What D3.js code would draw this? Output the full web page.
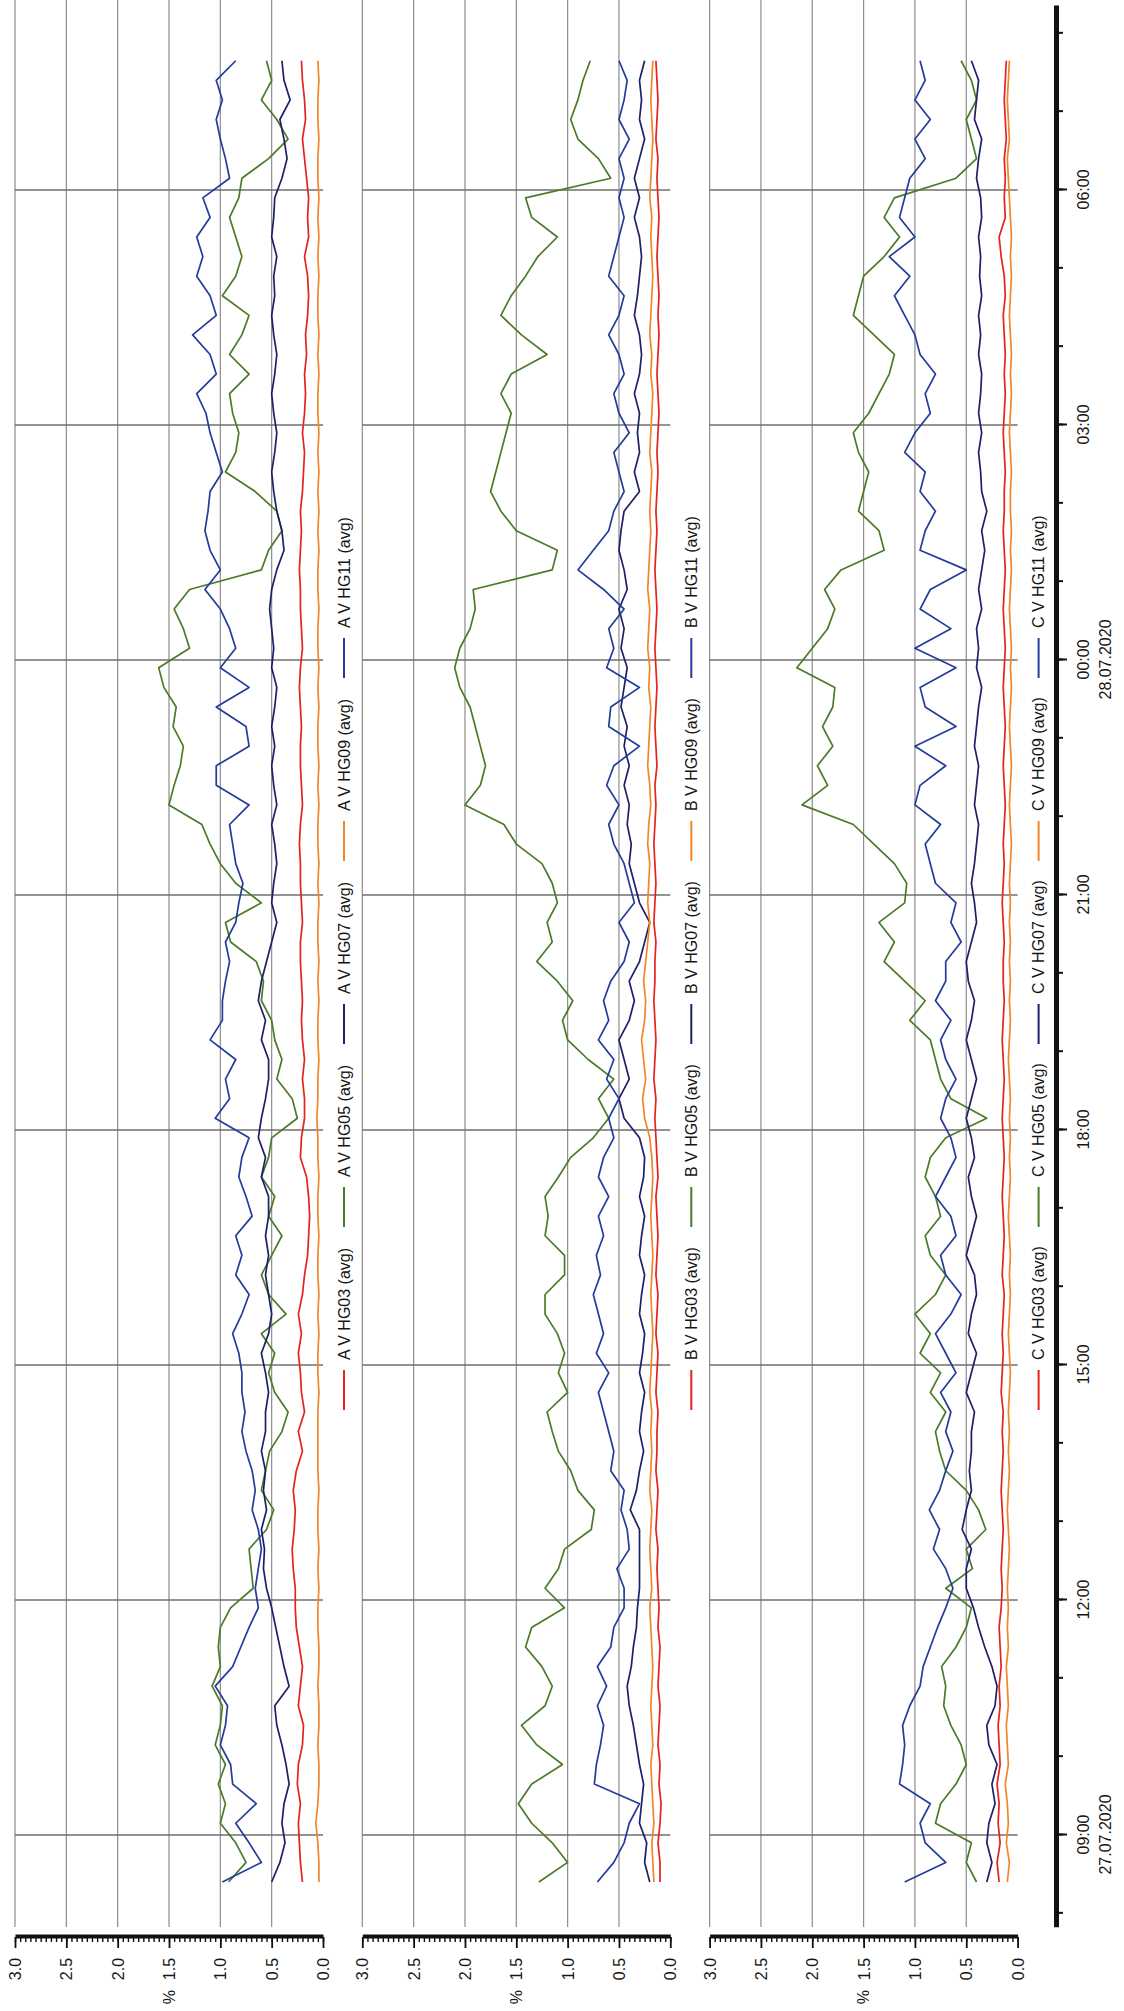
<!DOCTYPE html>
<html><head><meta charset="utf-8">
<script src="https://cdn.jsdelivr.net/npm/d3@7"></script>
<style>
body{margin:0;background:#fff}
svg{display:block}
text{font-family:"Liberation Sans",Arial,sans-serif;fill:#151515}
</style>
</head><body>
<svg id="chart" width="1124" height="2011"></svg>
<script>
// ---------------- data ----------------
const panels = ["A", "B", "C"];
const seriesNames = ["HG03", "HG05", "HG07", "HG09", "HG11"];
const seriesColors = ["#e4231d", "#4b7a29", "#1c2068", "#f2862b", "#233c9c"];
const startTime = new Date(2020, 6, 27, 8, 24);   // first sample
const stepMinutes = 15;
const valueTicks = [0, 0.5, 1, 1.5, 2, 2.5, 3];
const axisStart = new Date(2020, 6, 27, 7, 49);
const axisEnd = new Date(2020, 6, 28, 8, 21);
const dateLabels = { "09:00": "27.07.2020", "00:00": "28.07.2020" };

// Panel A
const a_hg03 = [0.20,0.22,0.23,0.24,0.22,0.25,0.24,0.20,0.19,0.24,0.22,0.20,0.23,0.26,0.27,0.27,0.29,0.30,0.28,0.27,0.29,0.26,0.20,
  0.24,0.18,0.21,0.22,0.24,0.21,0.24,0.20,0.18,0.15,0.14,0.13,0.14,0.16,0.22,0.21,0.18,0.18,0.20,0.18,0.20,0.21,0.20,0.21,
  0.22,0.22,0.20,0.21,0.22,0.22,0.23,0.22,0.20,0.21,0.22,0.22,0.21,0.22,0.23,0.22,0.20,0.21,0.22,0.22,0.23,0.22,0.21,0.22,
  0.20,0.19,0.18,0.20,0.18,0.17,0.18,0.16,0.17,0.15,0.14,0.15,0.18,0.14,0.15,0.14,0.16,0.18,0.20,0.17,0.18,0.20,0.21];
const a_hg05 = [0.92,0.75,0.85,1.00,0.95,1.02,0.95,1.05,1.00,0.98,1.08,1.00,1.02,1.00,0.90,0.68,0.70,0.72,0.55,0.48,0.60,0.56,0.52,
  0.40,0.34,0.47,0.53,0.47,0.60,0.36,0.53,0.60,0.50,0.40,0.53,0.47,0.60,0.53,0.50,0.25,0.30,0.45,0.40,0.47,0.50,0.60,0.58,
  0.65,0.90,0.95,0.60,0.85,1.00,1.10,1.18,1.50,1.45,1.39,1.36,1.46,1.43,1.55,1.60,1.30,1.36,1.45,1.30,0.60,0.53,0.40,0.45,
  0.66,0.95,0.85,0.82,0.88,0.91,0.72,0.91,0.79,0.72,0.98,0.85,0.79,0.85,0.91,0.82,0.79,0.53,0.34,0.45,0.60,0.50,0.55];
const a_hg07 = [0.50,0.42,0.37,0.40,0.38,0.33,0.36,0.40,0.45,0.47,0.33,0.38,0.42,0.46,0.50,0.55,0.58,0.57,0.60,0.55,0.58,0.56,0.60,
  0.56,0.56,0.53,0.56,0.60,0.53,0.50,0.53,0.56,0.53,0.56,0.53,0.53,0.60,0.56,0.63,0.60,0.56,0.53,0.53,0.60,0.56,0.63,0.60,
  0.55,0.50,0.45,0.50,0.48,0.45,0.47,0.50,0.45,0.48,0.50,0.47,0.50,0.47,0.45,0.50,0.48,0.50,0.52,0.50,0.45,0.38,0.40,0.45,
  0.48,0.50,0.47,0.45,0.48,0.50,0.47,0.45,0.48,0.50,0.47,0.48,0.45,0.50,0.48,0.47,0.40,0.35,0.38,0.42,0.32,0.38,0.40];
const a_hg09 = [0.04,0.04,0.05,0.07,0.05,0.04,0.04,0.05,0.04,0.04,0.05,0.04,0.04,0.05,0.05,0.04,0.05,0.04,0.05,0.05,0.04,0.05,0.05,
  0.05,0.05,0.04,0.05,0.05,0.04,0.05,0.04,0.05,0.05,0.04,0.05,0.05,0.04,0.05,0.05,0.06,0.05,0.05,0.04,0.05,0.05,0.04,0.05,
  0.04,0.05,0.05,0.04,0.05,0.04,0.05,0.05,0.04,0.05,0.04,0.05,0.05,0.04,0.05,0.04,0.05,0.05,0.04,0.05,0.05,0.04,0.05,0.04,
  0.05,0.04,0.05,0.04,0.05,0.05,0.04,0.05,0.04,0.05,0.05,0.04,0.05,0.04,0.05,0.04,0.05,0.05,0.04,0.05,0.05,0.04,0.05];
const a_hg11 = [0.98,0.60,0.72,0.85,0.65,0.88,0.90,1.00,0.95,0.93,1.05,0.88,0.80,0.72,0.63,0.66,0.63,0.60,0.63,0.69,0.66,0.69,0.75,
  0.79,0.76,0.79,0.79,0.82,0.88,0.79,0.72,0.85,0.79,0.85,0.69,0.75,0.82,0.79,0.72,1.05,0.91,0.95,0.85,1.10,0.98,0.98,0.95,
  0.91,0.95,0.85,0.82,0.78,0.85,0.88,0.91,0.72,1.04,1.04,0.72,0.75,1.04,0.72,1.00,0.85,0.91,1.00,1.15,1.00,1.10,1.15,1.12,
  1.10,0.98,1.04,1.10,1.14,1.23,1.04,1.10,1.27,1.04,1.10,1.23,1.17,1.23,1.10,1.17,0.91,0.95,1.00,1.04,0.98,1.04,0.85];

// Panel B
const b_hg03 = [0.10,0.10,0.12,0.10,0.09,0.11,0.10,0.12,0.11,0.10,0.12,0.11,0.10,0.12,0.11,0.12,0.13,0.12,0.14,0.13,0.12,0.14,0.13,
  0.13,0.12,0.14,0.13,0.12,0.14,0.13,0.12,0.14,0.13,0.12,0.13,0.14,0.12,0.13,0.14,0.15,0.14,0.16,0.15,0.14,0.15,0.16,0.15,
  0.15,0.14,0.16,0.15,0.14,0.15,0.16,0.15,0.14,0.15,0.13,0.14,0.15,0.14,0.13,0.14,0.15,0.14,0.13,0.14,0.15,0.14,0.13,0.14,
  0.13,0.12,0.13,0.12,0.11,0.12,0.13,0.12,0.11,0.12,0.11,0.12,0.13,0.12,0.11,0.12,0.13,0.12,0.14,0.13,0.12,0.13,0.14];
const b_hg05 = [1.28,1.00,1.15,1.35,1.48,1.35,1.05,1.30,1.45,1.22,1.15,1.25,1.41,1.35,1.03,1.22,1.09,1.03,0.77,0.74,0.90,0.97,1.09,
  1.15,1.20,1.00,1.09,1.03,1.10,1.22,1.22,1.03,1.03,1.22,1.19,1.22,1.09,0.97,0.75,0.60,0.70,0.55,0.80,1.00,1.05,0.95,1.10,
  1.30,1.15,1.20,1.10,1.15,1.25,1.50,1.62,2.00,1.85,1.80,1.85,1.90,1.95,2.05,2.10,2.05,1.95,1.90,1.92,1.15,1.10,1.50,1.65,
  1.75,1.70,1.65,1.60,1.55,1.65,1.55,1.20,1.45,1.65,1.55,1.41,1.29,1.10,1.35,1.41,0.58,0.70,0.90,0.97,0.90,0.85,0.78];
const b_hg07 = [0.20,0.25,0.23,0.30,0.28,0.26,0.30,0.33,0.36,0.40,0.42,0.38,0.36,0.33,0.32,0.30,0.30,0.30,0.30,0.39,0.33,0.30,0.26,
  0.30,0.28,0.25,0.30,0.27,0.25,0.30,0.28,0.25,0.30,0.28,0.25,0.30,0.26,0.25,0.30,0.45,0.50,0.40,0.45,0.50,0.40,0.35,0.40,
  0.30,0.25,0.20,0.30,0.35,0.40,0.38,0.42,0.40,0.45,0.40,0.45,0.42,0.48,0.45,0.42,0.48,0.45,0.50,0.42,0.45,0.50,0.48,0.45,
  0.30,0.35,0.30,0.32,0.30,0.35,0.30,0.28,0.30,0.35,0.32,0.30,0.28,0.30,0.35,0.30,0.35,0.30,0.25,0.30,0.28,0.30,0.25];
const b_hg09 = [0.16,0.17,0.18,0.16,0.17,0.18,0.19,0.17,0.18,0.19,0.18,0.17,0.18,0.19,0.20,0.18,0.19,0.20,0.19,0.18,0.20,0.19,0.18,
  0.19,0.18,0.20,0.19,0.18,0.17,0.18,0.19,0.18,0.17,0.18,0.19,0.18,0.17,0.18,0.20,0.25,0.27,0.24,0.26,0.28,0.25,0.24,0.26,
  0.24,0.22,0.20,0.22,0.21,0.20,0.22,0.21,0.19,0.20,0.22,0.21,0.20,0.19,0.21,0.20,0.22,0.21,0.20,0.22,0.21,0.20,0.19,0.20,
  0.19,0.18,0.20,0.19,0.18,0.17,0.19,0.18,0.20,0.19,0.18,0.17,0.18,0.19,0.18,0.20,0.19,0.18,0.17,0.18,0.19,0.18,0.17];
const b_hg11 = [0.71,0.55,0.45,0.40,0.30,0.74,0.72,0.68,0.65,0.71,0.62,0.71,0.58,0.55,0.45,0.45,0.52,0.40,0.42,0.48,0.45,0.58,0.55,
  0.60,0.65,0.70,0.60,0.72,0.65,0.70,0.75,0.68,0.72,0.65,0.70,0.60,0.70,0.65,0.55,0.60,0.50,0.62,0.55,0.70,0.60,0.65,0.58,
  0.45,0.40,0.50,0.35,0.40,0.45,0.55,0.60,0.50,0.62,0.55,0.30,0.60,0.58,0.30,0.62,0.55,0.60,0.45,0.65,0.90,0.75,0.60,0.55,
  0.45,0.50,0.55,0.40,0.50,0.55,0.45,0.50,0.60,0.50,0.45,0.60,0.55,0.50,0.45,0.50,0.45,0.50,0.40,0.50,0.45,0.42,0.50];

// Panel C
const c_hg03 = [0.18,0.20,0.17,0.19,0.18,0.20,0.17,0.18,0.19,0.17,0.18,0.16,0.17,0.18,0.16,0.15,0.16,0.15,0.14,0.15,0.16,0.15,0.14,
  0.15,0.14,0.16,0.15,0.14,0.15,0.14,0.13,0.15,0.14,0.13,0.14,0.15,0.14,0.13,0.14,0.15,0.14,0.13,0.14,0.15,0.14,0.13,0.14,
  0.14,0.13,0.14,0.15,0.14,0.13,0.14,0.13,0.12,0.13,0.14,0.13,0.12,0.13,0.14,0.13,0.12,0.13,0.14,0.13,0.12,0.13,0.14,0.13,
  0.13,0.12,0.13,0.14,0.13,0.12,0.13,0.12,0.13,0.14,0.12,0.13,0.16,0.18,0.12,0.13,0.12,0.13,0.11,0.12,0.13,0.12,0.11];
const c_hg05 = [0.40,0.50,0.45,0.80,0.75,0.60,0.50,0.55,0.65,0.72,0.70,0.74,0.60,0.50,0.45,0.70,0.44,0.50,0.31,0.38,0.50,0.70,0.76,
  0.80,0.70,0.85,0.75,0.95,0.85,1.00,0.80,0.70,0.85,0.90,0.75,0.80,0.90,0.85,0.70,0.30,0.65,0.75,0.80,0.85,1.05,0.90,1.10,
  1.30,1.20,1.35,1.10,1.08,1.20,1.40,1.60,2.10,1.85,1.95,1.80,1.90,1.80,1.78,2.15,2.00,1.85,1.78,1.88,1.72,1.30,1.35,1.55,
  1.50,1.45,1.55,1.60,1.45,1.35,1.25,1.20,1.40,1.60,1.55,1.50,1.30,1.15,1.30,1.20,0.60,0.40,0.45,0.50,0.40,0.45,0.55];
const c_hg07 = [0.30,0.25,0.30,0.28,0.22,0.25,0.20,0.28,0.30,0.22,0.20,0.25,0.32,0.38,0.43,0.50,0.50,0.45,0.54,0.50,0.45,0.47,0.45,
  0.45,0.42,0.50,0.45,0.40,0.48,0.45,0.40,0.42,0.50,0.45,0.40,0.45,0.48,0.42,0.45,0.50,0.45,0.40,0.45,0.50,0.45,0.42,0.48,
  0.50,0.45,0.40,0.42,0.45,0.42,0.40,0.38,0.42,0.40,0.38,0.42,0.40,0.38,0.35,0.40,0.38,0.40,0.35,0.38,0.35,0.32,0.35,0.30,
  0.35,0.36,0.38,0.35,0.38,0.36,0.35,0.38,0.36,0.38,0.35,0.37,0.36,0.38,0.35,0.36,0.40,0.38,0.35,0.42,0.40,0.38,0.45];
const c_hg09 = [0.10,0.08,0.11,0.09,0.10,0.12,0.09,0.10,0.11,0.09,0.10,0.11,0.09,0.10,0.09,0.10,0.09,0.08,0.09,0.10,0.09,0.08,0.09,
  0.08,0.09,0.08,0.07,0.08,0.09,0.08,0.07,0.08,0.07,0.08,0.09,0.08,0.07,0.08,0.07,0.08,0.07,0.08,0.09,0.08,0.07,0.08,0.07,
  0.08,0.07,0.08,0.07,0.08,0.07,0.06,0.07,0.08,0.07,0.06,0.07,0.08,0.07,0.06,0.07,0.06,0.07,0.08,0.07,0.06,0.07,0.06,0.07,
  0.07,0.06,0.07,0.08,0.07,0.06,0.07,0.06,0.07,0.08,0.07,0.06,0.07,0.06,0.07,0.08,0.09,0.10,0.08,0.09,0.10,0.09,0.08];
const c_hg11 = [1.10,0.70,0.90,0.95,0.85,1.15,1.12,1.10,1.12,1.05,0.95,0.92,0.85,0.78,0.70,0.63,0.70,0.82,0.76,0.86,0.76,0.70,0.63,
  0.70,0.65,0.75,0.60,0.70,0.80,0.65,0.55,0.70,0.75,0.60,0.65,0.80,0.70,0.60,0.65,0.75,0.70,0.60,0.70,0.75,0.65,0.80,0.70,
  0.70,0.55,0.65,0.60,0.80,0.85,0.90,0.75,1.00,0.95,0.70,1.00,0.60,0.90,0.95,0.60,1.00,0.65,0.95,0.85,0.50,0.95,0.90,0.80,
  0.95,0.90,1.10,1.00,0.85,0.90,0.80,0.95,1.00,1.10,1.20,1.05,1.25,1.00,1.15,1.10,1.05,0.90,1.00,0.85,1.00,0.90,0.95];

const panelSeries = [
  [a_hg03, a_hg05, a_hg07, a_hg09, a_hg11],
  [b_hg03, b_hg05, b_hg07, b_hg09, b_hg11],
  [c_hg03, c_hg05, c_hg07, c_hg09, c_hg11]
];

// ---------------- layout ----------------
const W = 1124, H = 2011;
const panelTop = [15, 362.3, 709.6];
const panelH = 308;
const valueAxisU = 74;      // position of value axis bar (local coords)
const timeAxisV = 1056;     // position of time axis bar (local coords)

const svg = d3.select("#chart");
svg.append("rect").attr("width", W).attr("height", H).attr("fill", "#fff");
// whole chart is drawn in landscape orientation and rotated 90° counter-clockwise
const g = svg.append("g").attr("transform", `translate(0,${H}) rotate(-90)`);

const x = d3.scaleTime().domain([axisStart, axisEnd]).range([83.3, 2005.1]);
const majorTimes = x.ticks(d3.timeHour.every(3));
const timeOf = i => new Date(startTime.getTime() + i * stepMinutes * 60000);

panels.forEach((p, pi) => {
  const y = d3.scaleLinear().domain([0, 3]).range([panelTop[pi] + panelH, panelTop[pi]]);
  const pg = g.append("g");

  // value gridlines
  pg.append("g").selectAll("line").data(valueTicks.filter(v => v > 0)).join("line")
    .attr("x1", 84).attr("x2", H).attr("y1", d => y(d)).attr("y2", d => y(d))
    .attr("stroke", "#8c8c8c").attr("stroke-width", 1.2);
  // time gridlines
  pg.append("g").selectAll("line").data(majorTimes).join("line")
    .attr("x1", d => x(d)).attr("x2", d => x(d)).attr("y1", y(3)).attr("y2", y(0))
    .attr("stroke", "#6f6f6f").attr("stroke-width", 1.6);

  // series
  const line = d3.line().x((d, i) => x(timeOf(i))).y(d => y(d));
  panelSeries[pi].forEach((vals, si) => {
    pg.append("path").datum(vals).attr("d", line)
      .attr("fill", "none").attr("stroke", seriesColors[si])
      .attr("stroke-width", 1.7).attr("stroke-linejoin", "round");
  });

  // value axis (minor + major ticks)
  const minor = pg.append("g").attr("transform", `translate(${valueAxisU},0)`)
    .call(d3.axisLeft(y).tickValues(d3.range(0, 61).map(i => i * 0.05)).tickSize(5).tickSizeOuter(0).tickFormat(""));
  minor.select(".domain").attr("stroke", "#111").attr("stroke-width", 4);
  minor.selectAll(".tick line").attr("stroke", "#111").attr("stroke-width", 1.4);
  const major = pg.append("g").attr("transform", `translate(${valueAxisU},0)`)
    .call(d3.axisLeft(y).tickValues(valueTicks).tickSize(11).tickSizeOuter(0).tickFormat(d3.format(".1f")));
  major.select(".domain").remove();
  major.selectAll(".tick line").attr("stroke", "#111").attr("stroke-width", 1.8);
  major.selectAll(".tick text").attr("x", -32).attr("dy", "0.35em")
    .attr("text-anchor", "middle").style("font-size", "16px").style("font-family", "Liberation Sans, Arial, sans-serif").attr("fill", "#151515");

  // unit label
  pg.append("text").attr("x", 14).attr("y", panelTop[pi] + panelH / 2).attr("dy", "0.35em")
    .attr("text-anchor", "middle").style("font-size", "16px").text("%");

  // legend
  const lv = panelTop[pi] + panelH + 21;
  seriesNames.forEach((s, si) => {
    const u0 = 601 + 183 * si;
    pg.append("line").attr("x1", u0).attr("x2", u0 + 40).attr("y1", lv).attr("y2", lv)
      .attr("stroke", seriesColors[si]).attr("stroke-width", 2);
    pg.append("text").attr("x", u0 + 50).attr("y", lv).attr("dy", "0.35em")
      .style("font-size", "16px").text(`${p} V ${s} (avg)`);
  });
});

// time axis
const ta = g.append("g").attr("transform", `translate(0,${timeAxisV})`);
const tMinor = ta.append("g").call(d3.axisBottom(x).ticks(d3.timeHour.every(1)).tickSize(7).tickSizeOuter(0).tickFormat(""));
tMinor.select(".domain").attr("stroke", "#111").attr("stroke-width", 5);
tMinor.selectAll(".tick line").attr("stroke", "#111").attr("stroke-width", 2);
const fmt = d3.timeFormat("%H:%M");
const tMajor = ta.append("g").call(d3.axisBottom(x).tickValues(majorTimes).tickSize(11).tickSizeOuter(0).tickFormat(fmt));
tMajor.select(".domain").remove();
tMajor.selectAll(".tick line").attr("stroke", "#111").attr("stroke-width", 2);
tMajor.selectAll(".tick text").each(function(d) {
  const t = d3.select(this);
  const lbl = fmt(d);
  t.text(null).attr("y", 27).attr("dy", null).attr("fill", "#151515")
    .style("font-size", "16px").style("font-family", "Liberation Sans, Arial, sans-serif");
  t.append("tspan").attr("x", 0).attr("dy", "0.35em").text(lbl);
  if (dateLabels[lbl]) t.append("tspan").attr("x", 0).attr("dy", "1.4em").text(dateLabels[lbl]);
});
</script>
</body></html>
